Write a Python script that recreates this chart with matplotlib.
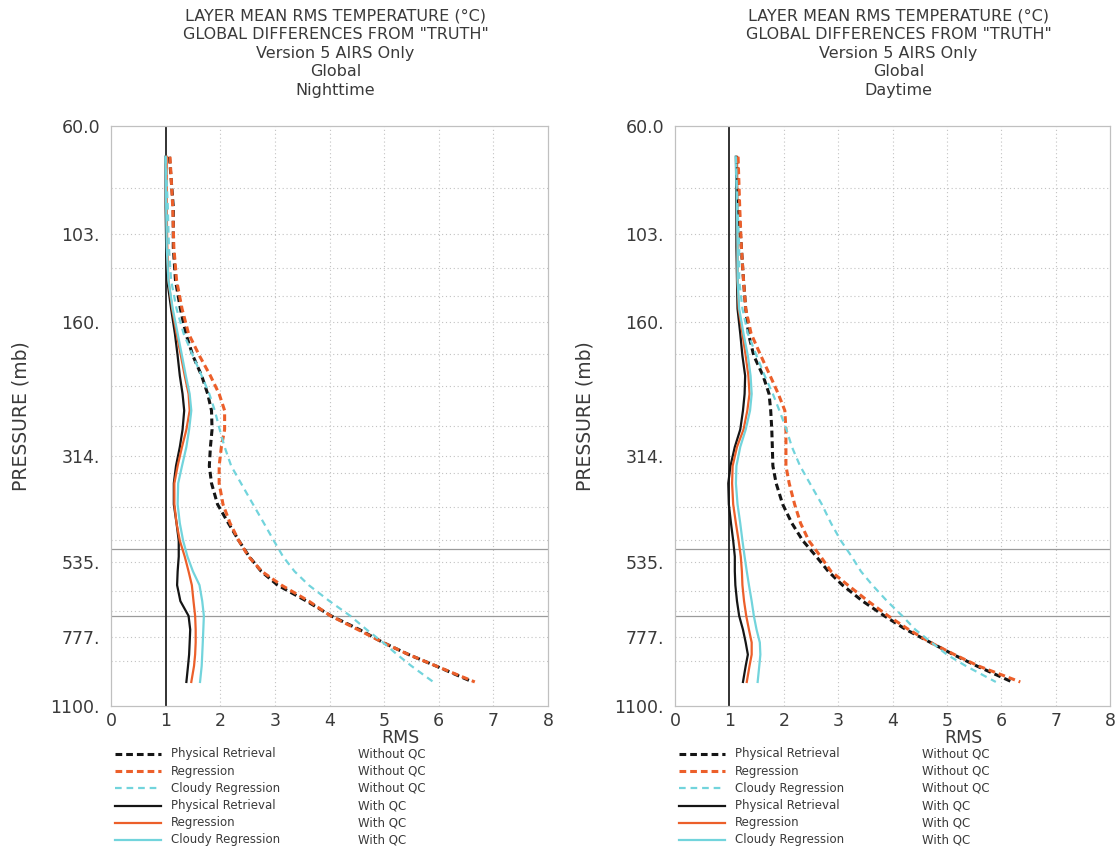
"""AIRS v5 layer mean RMS temperature differences from truth, night vs day."""

import matplotlib
matplotlib.use("Agg")
import matplotlib.pyplot as plt
import matplotlib.ticker as mticker
from matplotlib.lines import Line2D

# layer pressures (mb) where the profiles are sampled
PRESSURE = [70, 90, 110, 130, 150, 170, 190, 210, 230, 250, 275, 300, 330,
            360, 400, 440, 480, 520, 560, 600, 650, 700, 750, 800, 850, 900,
            975]

NIGHT = {
    "phys_noqc": [1.07, 1.14, 1.14, 1.18, 1.27, 1.37, 1.50, 1.66, 1.77, 1.84,
                  1.85, 1.82, 1.80, 1.84, 1.95, 2.15, 2.34, 2.53, 2.75, 3.05,
                  3.58, 4.03, 4.55, 4.98, 5.45, 5.95, 6.62],
    "reg_noqc": [1.08, 1.13, 1.15, 1.20, 1.30, 1.42, 1.62, 1.82, 1.98, 2.08,
                 2.08, 2.02, 1.98, 1.98, 2.05, 2.18, 2.34, 2.52, 2.76, 3.12,
                 3.62, 4.02, 4.52, 4.98, 5.45, 5.95, 6.66],
    "cloudy_noqc": [1.00, 1.04, 1.06, 1.10, 1.20, 1.33, 1.50, 1.66, 1.80, 1.90,
                    1.99, 2.08, 2.20, 2.38, 2.60, 2.80, 2.98, 3.15, 3.36, 3.62,
                    4.00, 4.38, 4.68, 4.98, 5.24, 5.50, 5.90],
    "phys_qc": [1.00, 1.00, 1.01, 1.03, 1.10, 1.17, 1.22, 1.26, 1.31, 1.34,
                1.31, 1.26, 1.19, 1.15, 1.15, 1.20, 1.24, 1.24, 1.22, 1.21,
                1.27, 1.42, 1.45, 1.44, 1.43, 1.41, 1.38],
    "reg_qc": [1.02, 1.02, 1.03, 1.05, 1.12, 1.20, 1.28, 1.35, 1.42, 1.44,
               1.38, 1.30, 1.22, 1.16, 1.16, 1.20, 1.26, 1.35, 1.42, 1.48,
               1.51, 1.54, 1.55, 1.55, 1.54, 1.52, 1.47],
    "cloudy_qc": [1.00, 1.01, 1.02, 1.05, 1.13, 1.22, 1.30, 1.37, 1.44, 1.47,
                  1.43, 1.38, 1.30, 1.23, 1.22, 1.26, 1.32, 1.40, 1.50, 1.62,
                  1.67, 1.70, 1.69, 1.68, 1.67, 1.66, 1.63],
}

DAY = {
    "phys_noqc": [1.14, 1.17, 1.22, 1.26, 1.30, 1.35, 1.45, 1.62, 1.73, 1.76,
                  1.78, 1.79, 1.80, 1.86, 1.98, 2.15, 2.35, 2.60, 2.82, 3.08,
                  3.45, 3.85, 4.25, 4.70, 5.12, 5.55, 6.20],
    "reg_noqc": [1.16, 1.19, 1.22, 1.26, 1.30, 1.40, 1.58, 1.75, 1.90, 2.02,
                 2.04, 2.04, 2.04, 2.10, 2.20, 2.31, 2.46, 2.68, 2.87, 3.18,
                 3.55, 3.92, 4.30, 4.70, 5.14, 5.58, 6.35],
    "cloudy_noqc": [1.12, 1.15, 1.18, 1.18, 1.24, 1.34, 1.50, 1.65, 1.80, 1.92,
                    2.05, 2.15, 2.30, 2.48, 2.70, 2.87, 3.05, 3.25, 3.42, 3.63,
                    3.90, 4.18, 4.42, 4.72, 5.00, 5.35, 5.90],
    "phys_qc": [1.12, 1.13, 1.13, 1.14, 1.15, 1.20, 1.24, 1.29, 1.28, 1.25,
                1.20, 1.10, 1.02, 0.98, 0.99, 1.03, 1.07, 1.10, 1.10, 1.11,
                1.14, 1.18, 1.25, 1.30, 1.34, 1.30, 1.25],
    "reg_qc": [1.14, 1.15, 1.15, 1.15, 1.17, 1.24, 1.30, 1.35, 1.37, 1.33,
               1.26, 1.14, 1.06, 1.05, 1.07, 1.12, 1.17, 1.21, 1.23, 1.24,
               1.27, 1.31, 1.36, 1.41, 1.41, 1.37, 1.32],
    "cloudy_qc": [1.12, 1.14, 1.15, 1.15, 1.18, 1.26, 1.34, 1.39, 1.41, 1.38,
                  1.30, 1.20, 1.13, 1.12, 1.15, 1.20, 1.24, 1.28, 1.32, 1.36,
                  1.41, 1.45, 1.50, 1.56, 1.57, 1.55, 1.52],
}

Y_TICKS = [60, 103, 160, 314, 535, 777, 1100]
Y_TICK_LABELS = ["60.0", "103.", "160.", "314.", "535.", "777.", "1100."]
GRID_P = [82, 103, 122, 141, 160, 188, 221, 270, 314, 342, 405, 478, 535,
          618, 683, 777, 877]
SOLID_P = [500, 700]

TITLE_LINES = ["LAYER MEAN RMS TEMPERATURE (\u00b0C)",
               "GLOBAL DIFFERENCES FROM \"TRUTH\"",
               "Version 5 AIRS Only",
               "Global"]

BLACK = "#151515"
ORANGE = "#ec5f2a"
CYAN = "#72d4dc"
TXT = "#3a3a3a"

# key, colour, width, dashes (None = solid), method label, qc label
STYLES = [
    ("phys_noqc", BLACK, 2.2, (2.2, 1.3), "Physical Retrieval", "Without QC"),
    ("reg_noqc", ORANGE, 2.2, (2.2, 1.3), "Regression", "Without QC"),
    ("cloudy_noqc", CYAN, 1.6, (3.0, 2.2), "Cloudy Regression", "Without QC"),
    ("phys_qc", BLACK, 1.6, None, "Physical Retrieval", "With QC"),
    ("reg_qc", ORANGE, 1.6, None, "Regression", "With QC"),
    ("cloudy_qc", CYAN, 1.6, None, "Cloudy Regression", "With QC"),
]

W, H = 1117, 852
fig = plt.figure(figsize=(W / 100, H / 100), dpi=100)
plt.rcParams["font.family"] = "DejaVu Sans"


def fx(px):
    return px / W


def fy(py):
    return 1 - py / H


def panel(x0, x1, data, when):
    ax = fig.add_axes([fx(x0), fy(706), fx(x1 - x0), (706 - 126) / H])
    ax.set_yscale("log")
    ax.set_ylim(1100, 60)
    ax.set_xlim(0, 8)

    for p in GRID_P:
        ax.axhline(p, color="#c2c2c2", lw=0.8, ls=(0, (1, 2.5)), zorder=1)
    for x in range(2, 8):
        ax.axvline(x, color="#c2c2c2", lw=0.8, ls=(0, (1, 2.5)), zorder=1)
    for p in SOLID_P:
        ax.axhline(p, color="#9a9a9a", lw=0.9, zorder=1)
    ax.axvline(1, color="#222222", lw=1.3, zorder=2)

    for key, col, lw, dash, _, _ in STYLES:
        if dash is None:
            ax.plot(data[key], PRESSURE, color=col, lw=lw, zorder=3)
        else:
            ax.plot(data[key], PRESSURE, color=col, lw=lw, dashes=dash,
                    zorder=4)

    ax.yaxis.set_minor_locator(mticker.NullLocator())
    ax.set_yticks(Y_TICKS)
    ax.set_yticklabels(Y_TICK_LABELS)
    ax.set_xticks(range(9))
    ax.tick_params(length=0, labelsize=12.5, colors=TXT, pad=4)
    ax.tick_params(axis="y", pad=8)
    for s in ax.spines.values():
        s.set_color("#c0c0c0")
        s.set_linewidth(0.9)

    ax.set_ylabel("PRESSURE (mb)", fontsize=13.5, color=TXT, labelpad=14)
    ax.text(5.3, -0.04, "RMS", transform=ax.get_xaxis_transform(),
            ha="center", va="top", fontsize=12.5, color=TXT)

    cx = fx((x0 + x1) / 2 + 6)
    for i, line in enumerate(TITLE_LINES + [when]):
        fig.text(cx, fy(16 + i * 18.6), line, ha="center", va="center",
                 fontsize=11.5, color=TXT)

    # hand-drawn legend under the panel
    for i, (key, col, lw, dash, name, qc) in enumerate(STYLES):
        yy = fy(754 + i * 17.2)
        ln = Line2D([fx(x0 + 4), fx(x0 + 50)], [yy, yy], color=col, lw=lw,
                    transform=fig.transFigure)
        if dash is not None:
            ln.set_dashes(dash)
        fig.add_artist(ln)
        fig.text(fx(x0 + 60), yy, name, ha="left", va="center",
                 fontsize=8.5, color=TXT)
        fig.text(fx(x0 + 247), yy, qc, ha="left", va="center",
                 fontsize=8.5, color=TXT)


panel(111, 548, NIGHT, "Nighttime")
panel(675, 1110, DAY, "Daytime")

fig.savefig("out.png", dpi=100, facecolor="white")
